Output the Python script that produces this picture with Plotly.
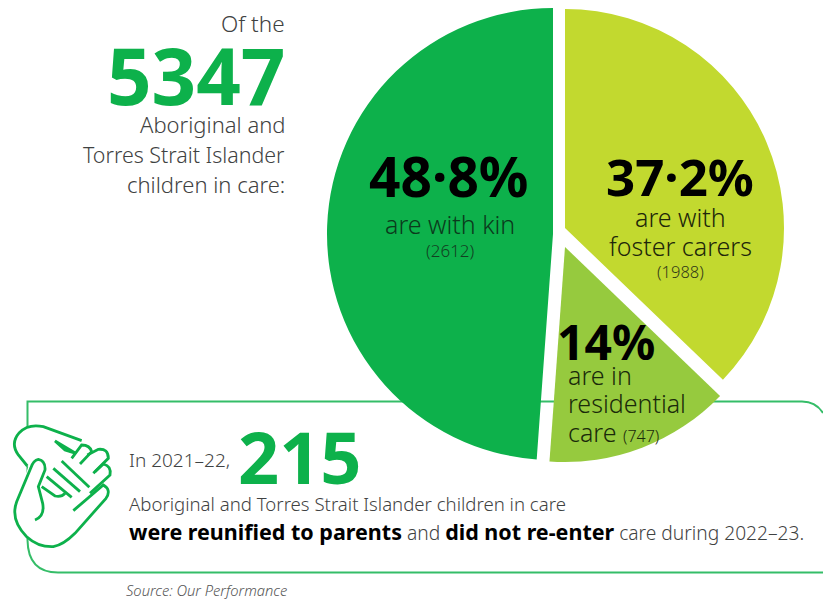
import plotly.graph_objects as go

W, H = 823, 600

# Placement of children in care (count of children)
categories = ["foster carers", "residential care", "kin"]
children = [1988, 747, 2612]
shares = ["37·2%", "14%", "48·8%"]
total_children = 5347
reunified = 215

KIN = "#0DB14B"
FOSTER = "#C2D92F"
RESIDENTIAL = "#96CA3E"
OUTLINE = "#35BD68"
GREY = "#3f4242"
DIM = "#123f22"
FONT = "Noto Sans"

# Each wedge sits on its own centre so the gaps between them stay open:
# (centre x, centre y, radius) in page pixels.
wedge_geometry = {
    "foster carers": (565, 228, 219),
    "residential care": (565, 247, 215),
    "kin": (553, 234, 226),
}
wedge_colours = {"foster carers": FOSTER, "residential care": RESIDENTIAL, "kin": KIN}


def px(x):
    return x / W


def py(y):
    return 1 - y / H


fig = go.Figure()
for name in categories:
    cx, cy, r = wedge_geometry[name]
    colours = [wedge_colours[name] if c == name else "rgba(0,0,0,0)" for c in categories]
    fig.add_trace(go.Pie(
        values=children,
        labels=categories,
        sort=False,
        direction="clockwise",
        rotation=0,
        textinfo="none",
        hoverinfo="skip",
        showlegend=False,
        marker=dict(colors=colours, line=dict(width=0)),
        domain=dict(x=[px(cx - r), px(cx + r)], y=[py(cy + r), py(cy - r)]),
    ))


def icon(pts):
    """Scale a path written on a 3x grid whose origin is (0, 390) into page fractions."""
    out = []
    for tok in pts.split():
        if "," in tok:
            a, b = tok.split(",")
            out.append(f"{px(float(a) / 3):.5f},{py(390 + float(b) / 3):.5f}")
        else:
            out.append(tok)
    return " ".join(out)


def page_path(pts):
    out = []
    for tok in pts.split():
        if "," in tok:
            a, b = tok.split(",")
            out.append(f"{px(float(a)):.5f},{py(float(b)):.5f}")
        else:
            out.append(tok)
    return " ".join(out)


shapes = [
    # rounded panel behind the reunification note
    dict(type="path", xref="paper", yref="paper", layer="below",
         path=page_path("M 823,413 Q 816,401.5 802,401.5 L 27.5,401.5 L 27.5,540 "
                        "Q 28,572.5 58,572.5 L 823,572.5"),
         line=dict(color=OUTLINE, width=2), fillcolor="rgba(0,0,0,0)"),
    # white silhouette so the panel edge stops at the hands
    dict(type="path", xref="paper", yref="paper", layer="below",
         path=icon("M 245,152 L 130,108 Q 80,100 55,130 Q 30,165 55,200 L 85,230 L 50,335 "
                   "Q 30,390 80,440 Q 115,472 160,470 Q 190,465 225,430 L 315,325 Q 340,290 330,240 "
                   "L 325,190 L 290,175 L 250,160 Z"),
         line=dict(width=0), fillcolor="white"),
]
hand_strokes = [
    "M 245,152 L 130,110 Q 85,100 58,128 Q 30,160 55,195 L 82,228",
    "M 105,390 Q 135,378 128,340 L 115,290 L 135,240 Q 137,212 115,208 Q 100,210 92,235 L 50,335 "
    "Q 30,390 80,440 Q 115,472 160,470 Q 190,465 225,430 L 318,325 Q 335,300 310,285 L 220,362",
    "M 165,153 L 228,190 L 195,180 Z",
    "M 215,205 L 245,165 Q 270,165 275,185 L 240,222",
    "M 262,195 L 295,178 Q 325,175 325,205 L 280,250",
    "M 285,245 L 310,222 Q 335,228 330,255 L 270,310",
    "M 185,213 L 268,292",
    "M 160,235 L 240,305",
    "M 140,260 L 215,322",
    "M 125,290 L 165,318 Q 185,322 195,310",
]
for stroke in hand_strokes:
    shapes.append(dict(type="path", xref="paper", yref="paper", layer="below",
                       path=icon(stroke), line=dict(color=KIN, width=2.8),
                       fillcolor="rgba(0,0,0,0)"))

annotations = []


def label(x, y, text, size, anchor="left", color=GREY, weight=300, style="normal"):
    annotations.append(dict(
        x=px(x), y=py(y), xref="paper", yref="paper", text=text, showarrow=False,
        xanchor=anchor, yanchor="middle", align=anchor,
        font=dict(family=FONT, size=size, color=color, weight=weight, style=style),
    ))


# Headline block
label(287, 23, "Of the", 22.5, "right")
label(287, 75, str(total_children), 78, "right", KIN, 700)
label(287, 124, "Aboriginal and", 22, "right")
label(287, 155, "Torres Strait Islander", 21.4, "right")
label(287, 184, "children in care:", 22, "right")

# Labels on the wedges
label(449, 175, shares[2], 55, "center", "#000000", 700)
label(450, 224, "are with kin", 25, "center", "#0b3a1c")
label(450, 250, f"({children[2]})", 17, "center", DIM)

label(680, 176, shares[0], 51, "center", "#000000", 700)
label(680, 217, "are with", 25, "center", "#20260a")
label(680, 246, "foster carers", 25, "center", "#20260a")
label(680, 271, f"({children[0]})", 16.5, "center", "#333b18")

label(555, 341, shares[1], 48, "left", "#000000", 700)
label(566, 375, "are in", 25, "left", "#1a2a0a")
label(566, 403, "residential", 25, "left", "#1a2a0a")
label(566, 432, "care <span style='font-size:16px'>(" + str(children[1]) + ")</span>", 25,
      "left", "#1a2a0a")

# Reunification note
label(127, 460, "In 2021–22,", 19, "left")
label(236, 456, str(reunified), 72, "left", KIN, 700)
label(127, 503, "Aboriginal and Torres Strait Islander children in care", 18.6, "left")
label(127, 531,
      "<span style='font-size:21.5px'><b style='color:#000'>were reunified to parents</b></span> and "
      "<span style='font-size:21.5px'><b style='color:#000'>did not re-enter</b></span> care during 2022–23.",
      19.2, "left")

label(124, 590, "Source: Our Performance", 14.7, "left", "#555555", 300, "italic")

fig.update_layout(
    width=W, height=H,
    margin=dict(l=0, r=0, t=0, b=0),
    paper_bgcolor="white",
    plot_bgcolor="white",
    shapes=shapes,
    annotations=annotations,
    showlegend=False,
)

fig.write_html("out.html")
